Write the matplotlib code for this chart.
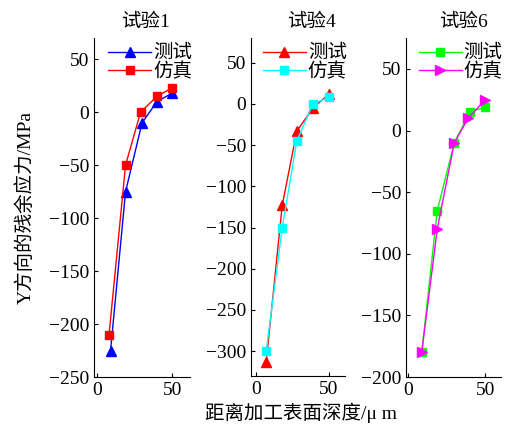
import matplotlib.pyplot as plt

plt.rcParams['font.family'] = ['Liberation Serif', 'Noto Sans CJK SC']
plt.rcParams['axes.unicode_minus'] = True

# 试验1
x1_test = [9, 19, 30, 40, 50]
y1_test = [-225, -75, -10, 10, 18]
x1_sim = [8, 19, 29, 40, 50]
y1_sim = [-210, -50, 0, 15, 23]

# 试验4
x4_test = [7, 18, 28, 39, 50]
y4_test = [-313, -123, -33, -5, 12]
x4_sim = [7, 18, 28, 39, 50]
y4_sim = [-300, -150, -45, 0, 8]

# 试验6
x6_test = [9, 19, 30, 40, 50]
y6_test = [-180, -65, -10, 15, 19]
x6_sim = [9, 19, 30, 39, 50]
y6_sim = [-180, -80, -10, 10, 25]

titles = ['试验1', '试验4', '试验6']
labels = ['测试', '仿真']

fig = plt.figure(figsize=(5.11, 4.32), dpi=100)

positions = [
    [0.184, 0.127, 0.188, 0.785],
    [0.491, 0.130, 0.184, 0.782],
    [0.795, 0.127, 0.185, 0.785],
]
title_x = [0.54, 0.64, 0.6]

msize = {'^': 6.5, 's': 5.5, '>': 6.5}

panels = [
    (x1_test, y1_test, '^', 'blue', x1_sim, y1_sim, 's', 'red',
     (-2, 62), (-250, 70), [-250, -200, -150, -100, -50, 0, 50]),
    (x4_test, y4_test, '^', 'red', x4_sim, y4_sim, 's', 'cyan',
     (-3.5, 61), (-330, 80), [-300, -250, -200, -150, -100, -50, 0, 50]),
    (x6_test, y6_test, 's', 'lime', x6_sim, y6_sim, '>', 'magenta',
     (-1, 60), (-200, 75), [-200, -150, -100, -50, 0, 50]),
]

for i, p in enumerate(panels):
    xt, yt, mt, ct, xs, ys, ms, cs, xl, yl, yticks = p
    ax = fig.add_axes(positions[i])
    ax.plot(xt, yt, marker=mt, color=ct, lw=1, ms=msize[mt], label=labels[0])
    ax.plot(xs, ys, marker=ms, color=cs, lw=1, ms=msize[ms], label=labels[1])
    ax.set_xlim(xl)
    ax.set_ylim(yl)
    ax.set_xticks([0, 50])
    ax.set_yticks(yticks)
    ax.spines['top'].set_visible(False)
    ax.spines['right'].set_visible(False)
    ax.tick_params(direction='in', length=3, labelsize=14)
    ax.set_title(titles[i], fontsize=14, pad=8, x=title_x[i])
    ax.legend(loc='upper right', bbox_to_anchor=(1.02, 0.98), frameon=False,
              fontsize=14, handlelength=2.2, handletextpad=0.1,
              borderpad=0, labelspacing=0.0, borderaxespad=0)

fig.text(0.05, 0.52, 'Y方向的残余应力/MPa', rotation=90, ha='center',
         va='center', fontsize=14)
fig.text(0.59, 0.045, '距离加工表面深度/μ m', ha='center', va='center',
         fontsize=14)

fig.savefig('out.png', dpi=100)
